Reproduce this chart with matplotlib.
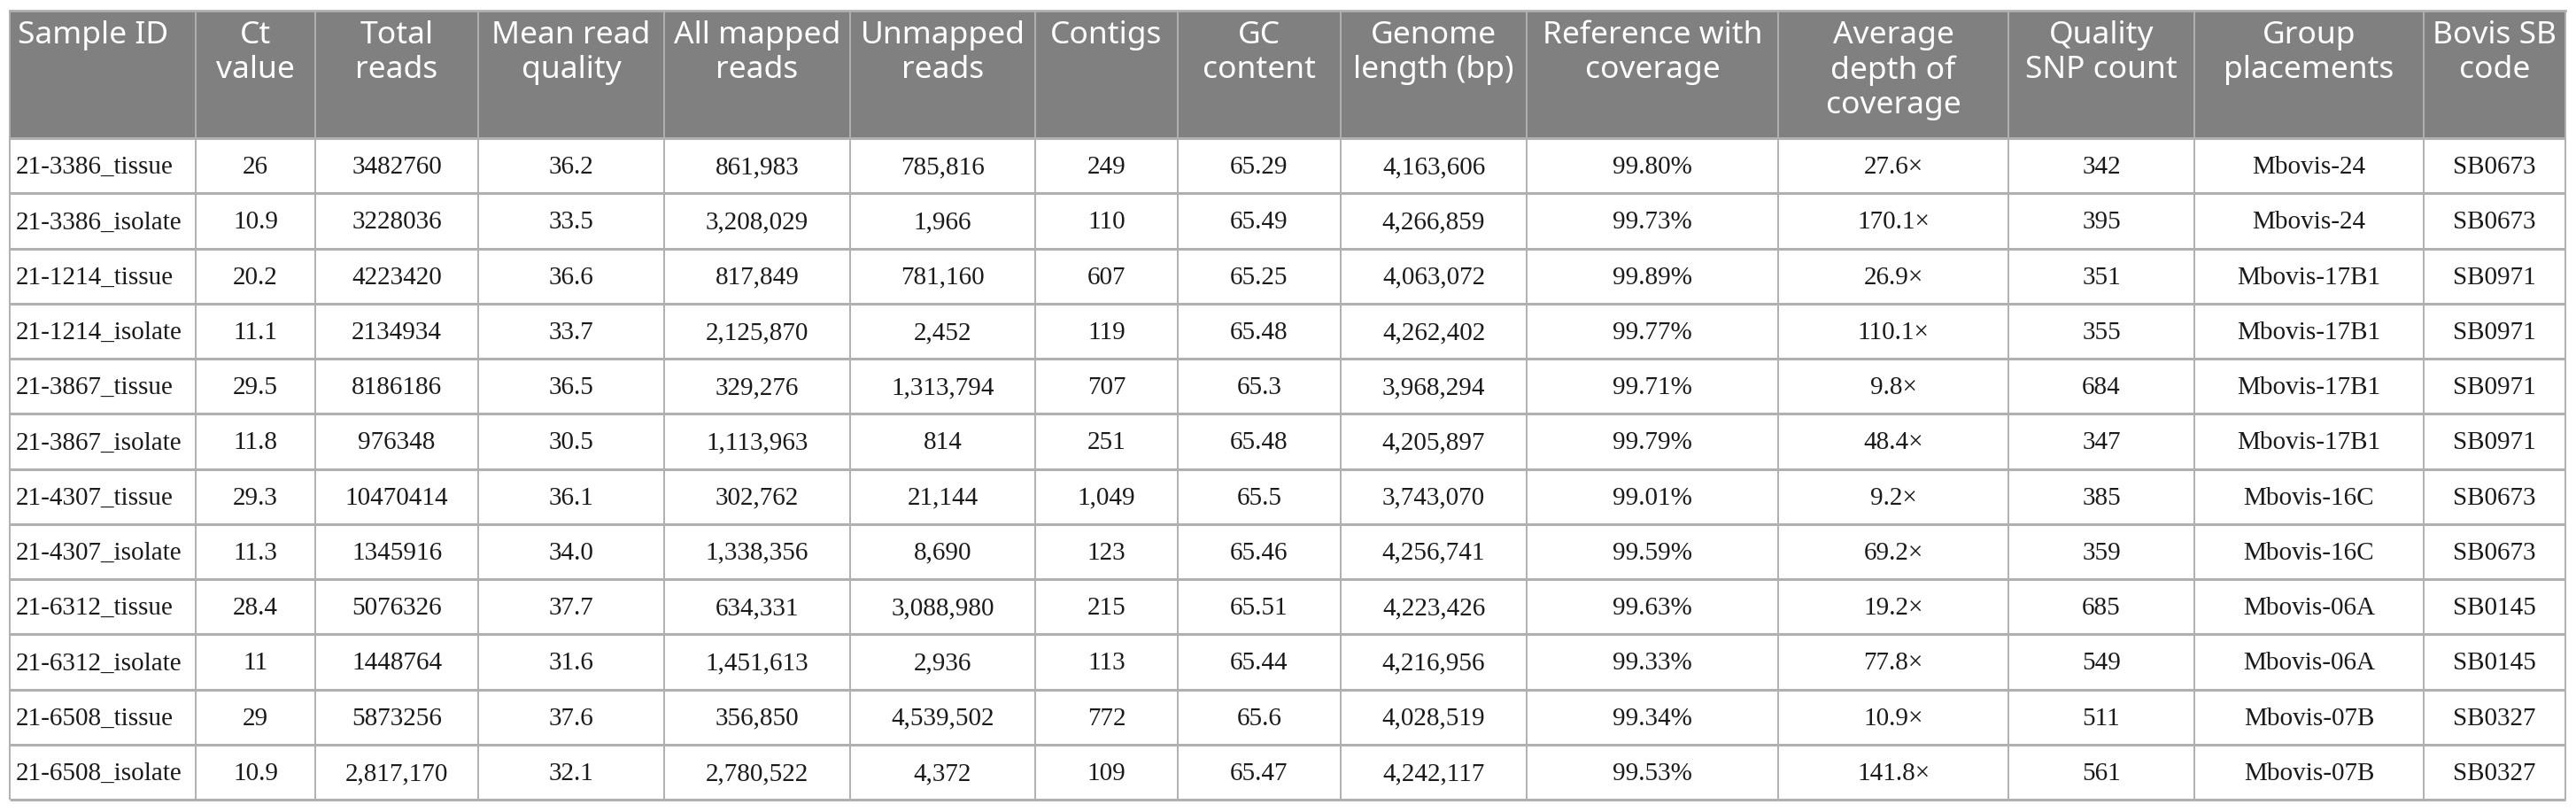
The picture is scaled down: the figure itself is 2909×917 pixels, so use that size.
import matplotlib.pyplot as plt
from matplotlib.patches import Rectangle

# header texts
headers = ["Sample ID", "Ct\nvalue", "Total\nreads", "Mean read\nquality", "All mapped\nreads",
           "Unmapped\nreads", "Contigs", "GC\ncontent", "Genome\nlength (bp)",
           "Reference with\ncoverage", "Average\ndepth of\ncoverage", "Quality\nSNP count",
           "Group\nplacements", "Bovis SB\ncode"]

# table data, one list per column
sample_id = ["21-3386_tissue", "21-3386_isolate", "21-1214_tissue", "21-1214_isolate",
             "21-3867_tissue", "21-3867_isolate", "21-4307_tissue", "21-4307_isolate",
             "21-6312_tissue", "21-6312_isolate", "21-6508_tissue", "21-6508_isolate"]
ct_value = ["26", "10.9", "20.2", "11.1", "29.5", "11.8", "29.3", "11.3", "28.4", "11", "29", "10.9"]
total_reads = ["3482760", "3228036", "4223420", "2134934", "8186186", "976348", "10470414",
               "1345916", "5076326", "1448764", "5873256", "2,817,170"]
mean_quality = ["36.2", "33.5", "36.6", "33.7", "36.5", "30.5", "36.1", "34.0", "37.7", "31.6", "37.6", "32.1"]
mapped_reads = ["861,983", "3,208,029", "817,849", "2,125,870", "329,276", "1,113,963", "302,762",
                "1,338,356", "634,331", "1,451,613", "356,850", "2,780,522"]
unmapped_reads = ["785,816", "1,966", "781,160", "2,452", "1,313,794", "814", "21,144", "8,690",
                  "3,088,980", "2,936", "4,539,502", "4,372"]
contigs = ["249", "110", "607", "119", "707", "251", "1,049", "123", "215", "113", "772", "109"]
gc_content = ["65.29", "65.49", "65.25", "65.48", "65.3", "65.48", "65.5", "65.46", "65.51", "65.44", "65.6", "65.47"]
genome_length = ["4,163,606", "4,266,859", "4,063,072", "4,262,402", "3,968,294", "4,205,897",
                 "3,743,070", "4,256,741", "4,223,426", "4,216,956", "4,028,519", "4,242,117"]
ref_coverage = ["99.80%", "99.73%", "99.89%", "99.77%", "99.71%", "99.79%", "99.01%", "99.59%",
                "99.63%", "99.33%", "99.34%", "99.53%"]
avg_depth = ["27.6×", "170.1×", "26.9×", "110.1×", "9.8×", "48.4×", "9.2×", "69.2×",
             "19.2×", "77.8×", "10.9×", "141.8×"]
snp_count = ["342", "395", "351", "355", "684", "347", "385", "359", "685", "549", "511", "561"]
group_place = ["Mbovis-24", "Mbovis-24", "Mbovis-17B1", "Mbovis-17B1", "Mbovis-17B1", "Mbovis-17B1",
               "Mbovis-16C", "Mbovis-16C", "Mbovis-06A", "Mbovis-06A", "Mbovis-07B", "Mbovis-07B"]
sb_code = ["SB0673", "SB0673", "SB0971", "SB0971", "SB0971", "SB0971", "SB0673", "SB0673",
           "SB0145", "SB0145", "SB0327", "SB0327"]

columns = [sample_id, ct_value, total_reads, mean_quality, mapped_reads, unmapped_reads, contigs,
           gc_content, genome_length, ref_coverage, avg_depth, snp_count, group_place, sb_code]

# layout in pixels
col_edges = [11, 221, 356, 540, 750, 960, 1169, 1330, 1514, 1724, 2008, 2268, 2478, 2737, 2897]
top, head_bottom, bottom = 12, 156, 903
n_rows = len(sample_id)
row_h = (bottom - head_bottom) / n_rows
head_color = "#808080"
line_color = "#b0b0b0"

fig = plt.figure(figsize=(29.09, 9.17), dpi=100)
ax = fig.add_axes([0, 0, 1, 1])
ax.set_xlim(0, 2909)
ax.set_ylim(917, 0)
ax.axis("off")

# header background
ax.add_patch(Rectangle((col_edges[0], top), col_edges[-1] - col_edges[0], head_bottom - top,
                       facecolor=head_color, edgecolor="none"))

# header texts
for j, h in enumerate(headers):
    if j == 0:
        x, ha = col_edges[0] + 9, "left"
    else:
        x, ha = (col_edges[j] + col_edges[j + 1]) / 2, "center"
    ax.text(x, top + 11, h, ha=ha, va="top", color="white", fontsize=25.5,
            family="Noto Sans", linespacing=1.2, multialignment="center")

# body texts
for j, col in enumerate(columns):
    for i, val in enumerate(col):
        y = head_bottom + (i + 0.5) * row_h + 2
        if j == 0:
            x, ha = col_edges[0] + 7, "left"
        else:
            x, ha = (col_edges[j] + col_edges[j + 1]) / 2, "center"
        ax.text(x, y, val, ha=ha, va="center", color="#1a1a1a", fontsize=21,
                family=["Liberation Serif", "DejaVu Serif"])

# grid lines
for x in col_edges:
    ax.plot([x, x], [top, bottom], color=line_color, lw=1.4, solid_capstyle="butt")
ax.plot([col_edges[0], col_edges[-1]], [top, top], color=line_color, lw=2)
for i in range(n_rows + 1):
    y = head_bottom + i * row_h
    ax.plot([col_edges[0], col_edges[-1]], [y, y], color=line_color, lw=2.2, solid_capstyle="butt")

fig.savefig("out.png", dpi=100, facecolor="white")
